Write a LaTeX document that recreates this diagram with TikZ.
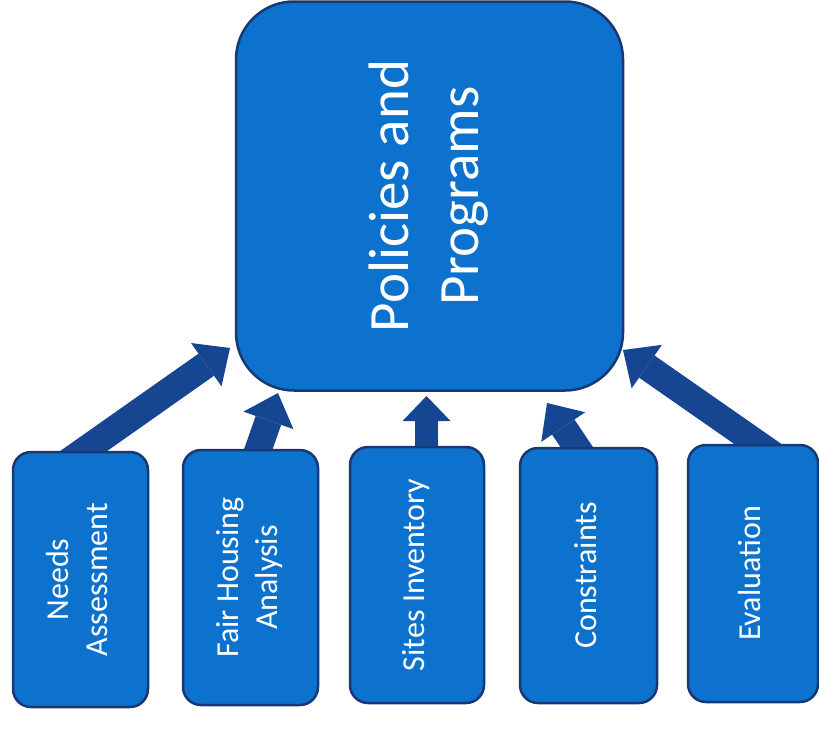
\documentclass[tikz,border=0pt]{standalone}
\usepackage{fontspec}
\setmainfont{Carlito}
\usetikzlibrary{arrows.meta,calc,backgrounds}
\definecolor{boxfill}{RGB}{12,114,206}
\definecolor{boxline}{RGB}{25,55,115}
\definecolor{arrowc}{RGB}{22,70,145}
\newcommand\vlabel[1]{\rotatebox{90}{\begin{tabular}{@{}c@{}}#1\end{tabular}}}
\begin{document}
\begin{tikzpicture}[x=1pt,y=-1pt,
  box/.style={draw=boxline, line width=2.5pt, fill=boxfill, text=white, inner sep=0pt},
  mainbox/.style={box, rounded corners=58pt, minimum width=387pt, minimum height=389pt, font=\fontsize{57}{70}\selectfont},
  smallbox/.style={box, rounded corners=18pt, minimum height=255pt, font=\fontsize{32}{39}\selectfont},
  bigarrow/.style={draw=arrowc, line width=27pt, -{Triangle[width=53pt,length=29pt,line width=0pt]}, shorten <=-25pt},
  midarrow/.style={draw=arrowc, line width=23pt, -{Triangle[width=48pt,length=25pt,line width=0pt]}, shorten <=-25pt},
]
\useasboundingbox (0,0) rectangle (819,728);
\node[mainbox] (main) at (429.5,196) {\vlabel{Policies and\\Programs}};
\node[smallbox, minimum width=135pt] (n1) at (80.5,579.5) {\vlabel{Needs\\Assessment}};
\node[smallbox, minimum width=135pt] (n2) at (250.5,577.5) {\vlabel{Fair Housing\\Analysis}};
\node[smallbox, minimum width=134pt, minimum height=256pt] (n3) at (417,575) {\vlabel{Sites Inventory}};
\node[smallbox, minimum width=137pt] (n4) at (588.5,575.5) {\vlabel{Constraints}};
\node[smallbox, minimum width=130pt, minimum height=257pt] (n5) at (753,573.5) {\vlabel{Evaluation}};
\coordinate (t1) at (230,348);
\coordinate (t2) at (278,393);
\coordinate (t3) at (426.5,396);
\coordinate (t4) at (547,403);
\coordinate (t5) at (623,350);
\begin{scope}[on background layer]
\draw[bigarrow] ($(n1.north)+(3.5,0)$) -- (t1);
\draw[bigarrow] ($(n2.north)+(8,0)$) -- (t2);
\draw[midarrow] ($(n3.north)+(9.5,0)$) -- (t3);
\draw[bigarrow] ($(n4.north)+(-12,0)$) -- (t4);
\draw[bigarrow] ($(n5.north)+(4.5,0)$) -- (t5);
\end{scope}
\end{tikzpicture}
\end{document}
